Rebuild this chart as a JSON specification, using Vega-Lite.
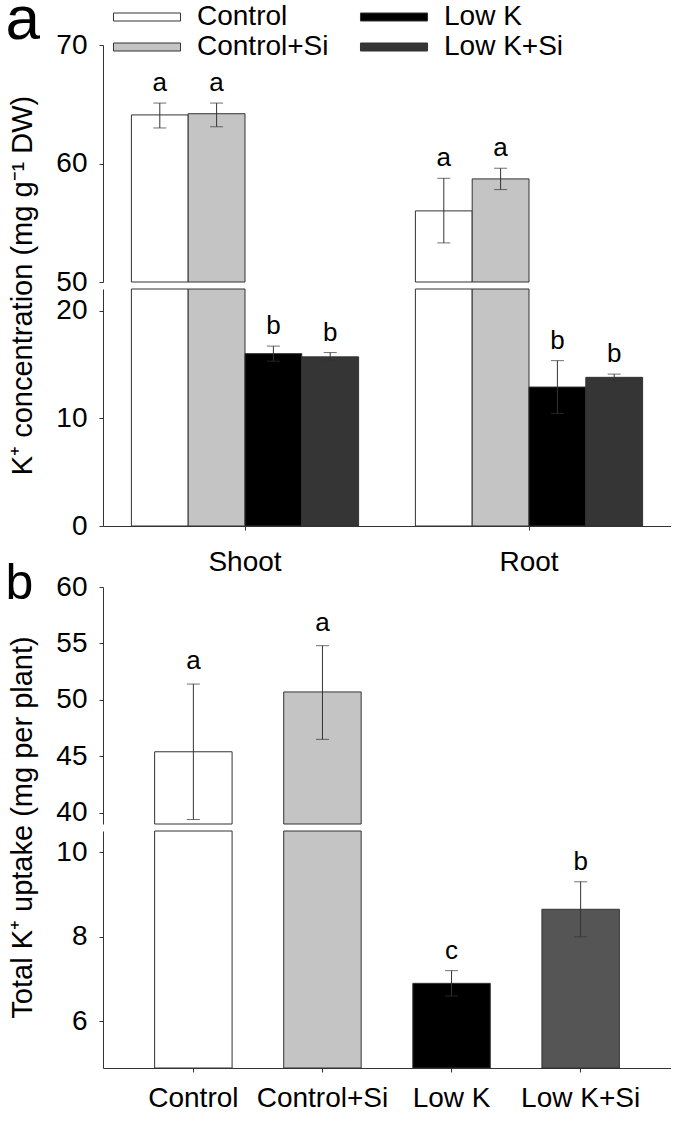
{
  "$schema": "https://vega.github.io/schema/vega-lite/v6.json",
  "padding": {"left": 5, "top": -12, "right": 0, "bottom": 0},
  "config": {
    "view": {"stroke": null},
    "font": "Liberation Sans",
    "axis": {"domainColor": "#333", "tickColor": "#333", "labelColor": "#000", "labelFontSize": 28, "tickSize": 4, "grid": false, "titleFontSize": 29, "titleFontWeight": "normal", "titleColor": "#000", "titleFont": "Liberation Sans"},
    "axisY": {"labelPadding": 12},
    "axisX": {"labelAngle": 0, "labelPadding": 18},
    "text": {"color": "#000"}
  },
  "datasets": {
    "a": [
      {"tissue": "Shoot", "treatment": "Control", "mean": 64.1, "lo": 63.0, "hi": 65.1, "letter": "a"},
      {"tissue": "Shoot", "treatment": "Control+Si", "mean": 64.2, "lo": 63.1, "hi": 65.1, "letter": "a"},
      {"tissue": "Shoot", "treatment": "Low K", "mean": 16.0, "lo": 15.3, "hi": 16.7, "letter": "b"},
      {"tissue": "Shoot", "treatment": "Low K+Si", "mean": 15.7, "lo": 15.35, "hi": 16.1, "letter": "b"},
      {"tissue": "Root", "treatment": "Control", "mean": 56.0, "lo": 53.3, "hi": 58.75, "letter": "a"},
      {"tissue": "Root", "treatment": "Control+Si", "mean": 58.7, "lo": 57.8, "hi": 59.6, "letter": "a"},
      {"tissue": "Root", "treatment": "Low K", "mean": 12.9, "lo": 10.45, "hi": 15.35, "letter": "b"},
      {"tissue": "Root", "treatment": "Low K+Si", "mean": 13.8, "lo": 13.5, "hi": 14.1, "letter": "b"}
    ],
    "b": [
      {"treatment": "Control", "mean": 45.4, "lo": 39.4, "hi": 51.4, "letter": "a"},
      {"treatment": "Control+Si", "mean": 50.7, "lo": 46.5, "hi": 54.8, "letter": "a"},
      {"treatment": "Low K", "mean": 6.9, "lo": 6.6, "hi": 7.2, "letter": "c"},
      {"treatment": "Low K+Si", "mean": 8.65, "lo": 8.0, "hi": 9.3, "letter": "b"}
    ]
  },
  "vconcat": [
    {
      "spacing": 7,
      "bounds": "flush",
      "resolve": {"scale": {"x": "independent", "y": "independent", "xOffset": "independent", "fill": "independent"}, "legend": {"fill": "independent"}},
      "vconcat": [
        {
          "width": 568, "height": 237,
          "data": {"name": "a"},
          "encoding": {
            "x": {"field": "tissue", "type": "nominal", "sort": ["Shoot", "Root"], "scale": {"domain": ["Shoot", "Root"], "paddingInner": 0.2, "paddingOuter": 0.1}, "axis": null},
            "xOffset": {"field": "treatment", "type": "nominal", "sort": ["Control", "Control+Si", "Low K", "Low K+Si"], "scale": {"domain": ["Control", "Control+Si", "Low K", "Low K+Si"], "paddingInner": 0, "paddingOuter": 0}}
          },
          "layer": [
            {
              "transform": [{"filter": "datum.mean > 50"}],
              "mark": {"type": "bar", "stroke": "#333", "strokeWidth": 1},
              "encoding": {
                "y": {"field": "mean", "type": "quantitative", "scale": {"domain": [50, 70], "zero": false, "nice": false, "clamp": true}, "axis": {"values": [50, 60, 70], "title": "a", "titleAngle": 0, "titleX": -98, "titleY": -7, "titleAlign": "left", "titleBaseline": "alphabetic", "titleFontSize": 62}},
                "fill": {"field": "treatment", "type": "nominal", "scale": {"domain": ["Control", "Control+Si", "Low K", "Low K+Si"], "range": ["#ffffff", "#c4c4c4", "#000000", "#353535"]},
                  "legend": {"orient": "none", "legendX": 30, "legendY": -42, "title": null, "columns": 2, "symbolType": "M-4.19,-0.5L4.19,-0.5L4.19,0.5L-4.19,0.5Z", "symbolSize": 256, "symbolStrokeColor": "#333", "symbolStrokeWidth": 1, "labelFontSize": 28, "labelOffset": 36, "columnPadding": 29, "rowPadding": 2, "labelColor": "#000", "labelFont": "Liberation Sans"}}
              }
            },
            {
              "transform": [{"filter": "datum.mean > 50"}],
              "mark": {"type": "rule", "color": "#333", "strokeWidth": 1},
              "encoding": {"y": {"field": "lo", "type": "quantitative", "scale": {"domain": [50, 70], "zero": false, "nice": false, "clamp": true}}, "y2": {"field": "hi"}}
            },
            {
              "transform": [{"filter": "datum.mean > 50"}],
              "mark": {"type": "tick", "color": "#333", "size": 13, "thickness": 1, "orient": "horizontal"},
              "encoding": {"y": {"field": "lo", "type": "quantitative", "scale": {"domain": [50, 70], "zero": false, "nice": false, "clamp": true}}}
            },
            {
              "transform": [{"filter": "datum.mean > 50"}],
              "mark": {"type": "tick", "color": "#333", "size": 13, "thickness": 1, "orient": "horizontal"},
              "encoding": {"y": {"field": "hi", "type": "quantitative", "scale": {"domain": [50, 70], "zero": false, "nice": false, "clamp": true}}}
            },
            {
              "transform": [{"filter": "datum.mean > 50"}],
              "mark": {"type": "text", "dy": -12, "baseline": "alphabetic", "align": "center", "fontSize": 26, "font": "Liberation Sans"},
              "encoding": {"y": {"field": "hi", "type": "quantitative", "scale": {"domain": [50, 70], "zero": false, "nice": false, "clamp": true}}, "text": {"field": "letter"}}
            }
          ]
        },
        {
          "width": 568, "height": 237,
          "data": {"name": "a"},
          "encoding": {
            "x": {"field": "tissue", "type": "nominal", "sort": ["Shoot", "Root"], "scale": {"domain": ["Shoot", "Root"], "paddingInner": 0.2, "paddingOuter": 0.1}, "axis": {"title": null}},
            "xOffset": {"field": "treatment", "type": "nominal", "sort": ["Control", "Control+Si", "Low K", "Low K+Si"], "scale": {"domain": ["Control", "Control+Si", "Low K", "Low K+Si"], "paddingInner": 0, "paddingOuter": 0}}
          },
          "layer": [
            {
              "mark": {"type": "bar", "stroke": "#333", "strokeWidth": 1},
              "encoding": {
                "y": {"field": "mean", "type": "quantitative", "scale": {"domain": [0, 22], "nice": false, "clamp": true}, "axis": {"values": [0, 10, 20], "title": "K⁺ concentration (mg g⁻¹ DW)", "titleY": -4, "titlePadding": 18}},
                "fill": {"field": "treatment", "type": "nominal", "scale": {"domain": ["Control", "Control+Si", "Low K", "Low K+Si"], "range": ["#ffffff", "#c4c4c4", "#000000", "#353535"]}, "legend": null}
              }
            },
            {
              "transform": [{"filter": "datum.mean < 25"}],
              "mark": {"type": "rule", "color": "#333", "strokeWidth": 1},
              "encoding": {"y": {"field": "lo", "type": "quantitative", "scale": {"domain": [0, 22], "nice": false, "clamp": true}}, "y2": {"field": "hi"}}
            },
            {
              "transform": [{"filter": "datum.mean < 25"}],
              "mark": {"type": "tick", "color": "#333", "size": 13, "thickness": 1, "orient": "horizontal"},
              "encoding": {"y": {"field": "lo", "type": "quantitative", "scale": {"domain": [0, 22], "nice": false, "clamp": true}}}
            },
            {
              "transform": [{"filter": "datum.mean < 25"}],
              "mark": {"type": "tick", "color": "#333", "size": 13, "thickness": 1, "orient": "horizontal"},
              "encoding": {"y": {"field": "hi", "type": "quantitative", "scale": {"domain": [0, 22], "nice": false, "clamp": true}}}
            },
            {
              "transform": [{"filter": "datum.mean < 25"}],
              "mark": {"type": "text", "dy": -12, "baseline": "alphabetic", "align": "center", "fontSize": 26, "font": "Liberation Sans"},
              "encoding": {"y": {"field": "hi", "type": "quantitative", "scale": {"domain": [0, 22], "nice": false, "clamp": true}}, "text": {"field": "letter"}}
            }
          ]
        }
      ]
    },
    {
      "spacing": 7,
      "bounds": "flush",
      "resolve": {"scale": {"x": "independent", "y": "independent", "fill": "independent"}, "legend": {"fill": "independent"}},
      "vconcat": [
        {
          "width": 568, "height": 237,
          "data": {"name": "b"},
          "encoding": {
            "x": {"field": "treatment", "type": "nominal", "sort": ["Control", "Control+Si", "Low K", "Low K+Si"], "scale": {"domain": ["Control", "Control+Si", "Low K", "Low K+Si"], "paddingInner": 0.4, "paddingOuter": 0.4}, "axis": null}
          },
          "layer": [
            {
              "transform": [{"filter": "datum.mean > 39"}],
              "mark": {"type": "bar", "stroke": "#333", "strokeWidth": 1},
              "encoding": {
                "y": {"field": "mean", "type": "quantitative", "scale": {"domain": [39, 60], "zero": false, "nice": false, "clamp": true}, "axis": {"values": [40, 45, 50, 55, 60], "title": "b", "titleAngle": 0, "titleX": -98, "titleY": 11, "titleAlign": "left", "titleBaseline": "alphabetic", "titleFontSize": 50}},
                "fill": {"field": "treatment", "type": "nominal", "scale": {"domain": ["Control", "Control+Si", "Low K", "Low K+Si"], "range": ["#ffffff", "#c4c4c4", "#000000", "#555555"]}, "legend": null}
              }
            },
            {
              "transform": [{"filter": "datum.mean > 39"}],
              "mark": {"type": "rule", "color": "#333", "strokeWidth": 1},
              "encoding": {"y": {"field": "lo", "type": "quantitative", "scale": {"domain": [39, 60], "zero": false, "nice": false, "clamp": true}}, "y2": {"field": "hi"}}
            },
            {
              "transform": [{"filter": "datum.mean > 39"}],
              "mark": {"type": "tick", "color": "#333", "size": 13, "thickness": 1, "orient": "horizontal"},
              "encoding": {"y": {"field": "lo", "type": "quantitative", "scale": {"domain": [39, 60], "zero": false, "nice": false, "clamp": true}}}
            },
            {
              "transform": [{"filter": "datum.mean > 39"}],
              "mark": {"type": "tick", "color": "#333", "size": 13, "thickness": 1, "orient": "horizontal"},
              "encoding": {"y": {"field": "hi", "type": "quantitative", "scale": {"domain": [39, 60], "zero": false, "nice": false, "clamp": true}}}
            },
            {
              "transform": [{"filter": "datum.mean > 39"}],
              "mark": {"type": "text", "dy": -15, "baseline": "alphabetic", "align": "center", "fontSize": 26, "font": "Liberation Sans"},
              "encoding": {"y": {"field": "hi", "type": "quantitative", "scale": {"domain": [39, 60], "zero": false, "nice": false, "clamp": true}}, "text": {"field": "letter"}}
            }
          ]
        },
        {
          "width": 568, "height": 237,
          "data": {"name": "b"},
          "encoding": {
            "x": {"field": "treatment", "type": "nominal", "sort": ["Control", "Control+Si", "Low K", "Low K+Si"], "scale": {"domain": ["Control", "Control+Si", "Low K", "Low K+Si"], "paddingInner": 0.4, "paddingOuter": 0.4}, "axis": {"title": null, "labelPadding": 12}}
          },
          "layer": [
            {
              "mark": {"type": "bar", "stroke": "#333", "strokeWidth": 1},
              "encoding": {
                "y": {"field": "mean", "type": "quantitative", "scale": {"domain": [4.9, 10.5], "zero": false, "nice": false, "clamp": true}, "axis": {"values": [6, 8, 10], "title": "Total K⁺ uptake (mg per plant)", "titleY": -4, "titlePadding": 18}},
                "fill": {"field": "treatment", "type": "nominal", "scale": {"domain": ["Control", "Control+Si", "Low K", "Low K+Si"], "range": ["#ffffff", "#c4c4c4", "#000000", "#555555"]}, "legend": null}
              }
            },
            {
              "transform": [{"filter": "datum.mean < 11"}],
              "mark": {"type": "rule", "color": "#333", "strokeWidth": 1},
              "encoding": {"y": {"field": "lo", "type": "quantitative", "scale": {"domain": [4.9, 10.5], "zero": false, "nice": false, "clamp": true}}, "y2": {"field": "hi"}}
            },
            {
              "transform": [{"filter": "datum.mean < 11"}],
              "mark": {"type": "tick", "color": "#333", "size": 13, "thickness": 1, "orient": "horizontal"},
              "encoding": {"y": {"field": "lo", "type": "quantitative", "scale": {"domain": [4.9, 10.5], "zero": false, "nice": false, "clamp": true}}}
            },
            {
              "transform": [{"filter": "datum.mean < 11"}],
              "mark": {"type": "tick", "color": "#333", "size": 13, "thickness": 1, "orient": "horizontal"},
              "encoding": {"y": {"field": "hi", "type": "quantitative", "scale": {"domain": [4.9, 10.5], "zero": false, "nice": false, "clamp": true}}}
            },
            {
              "transform": [{"filter": "datum.mean < 11"}],
              "mark": {"type": "text", "dy": -12, "baseline": "alphabetic", "align": "center", "fontSize": 26, "font": "Liberation Sans"},
              "encoding": {"y": {"field": "hi", "type": "quantitative", "scale": {"domain": [4.9, 10.5], "zero": false, "nice": false, "clamp": true}}, "text": {"field": "letter"}}
            }
          ]
        }
      ]
    }
  ],
  "spacing": -18,
  "resolve": {"scale": {"x": "independent", "y": "independent", "fill": "independent"}, "legend": {"fill": "independent"}}
}
